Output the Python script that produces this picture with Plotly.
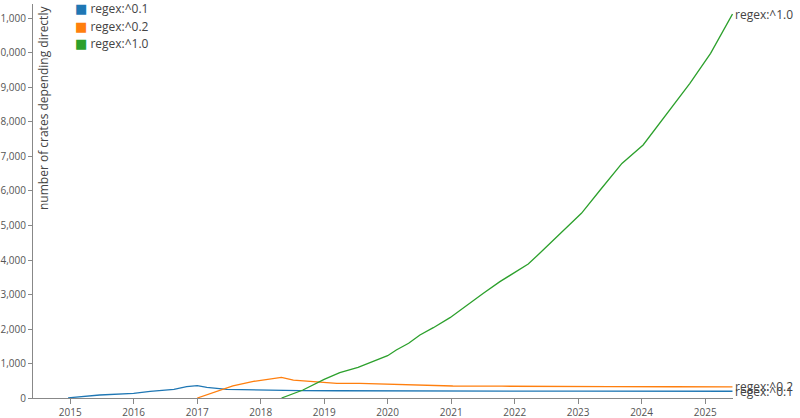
import plotly.graph_objects as go

# ---- data ----
series_names = ["regex:^0.1", "regex:^0.2", "regex:^1.0"]
colors = ["#1f77b4", "#ff7f0e", "#2ca02c"]

blue_dates = ["2014-12-20", "2015-06-20", "2016-01-01", "2016-04-05", "2016-08-20",
              "2016-11-01", "2017-01-01", "2017-02-25", "2017-06-20", "2017-12-28",
              "2018-08-15", "2019-03-15", "2020-03-15", "2021-06-01", "2023-01-01",
              "2025-06-07"]
blue_vals = [5, 87, 135, 193, 252, 328, 357, 310, 252, 232, 212, 210, 203, 200, 198, 196]

orange_dates = ["2017-01-01", "2017-04-20", "2017-07-25", "2017-11-20", "2018-04-30",
                "2018-07-08", "2018-12-28", "2019-03-15", "2019-07-25", "2020-01-01",
                "2020-07-05", "2021-01-10", "2021-10-20", "2022-07-22", "2023-07-01",
                "2024-07-01", "2025-06-07"]
orange_vals = [0, 183, 348, 481, 600, 520, 440, 425, 425, 396, 365, 348, 342, 330, 328,
               326, 325]

green_dates = ["2018-05-01", "2018-09-01", "2019-01-01", "2019-04-01", "2019-07-15",
               "2019-10-15", "2020-01-01", "2020-02-20", "2020-05-01", "2020-07-05",
               "2020-09-20", "2020-12-25", "2021-04-01", "2021-07-05", "2021-10-08",
               "2022-01-10", "2022-03-20", "2022-05-25", "2022-08-10", "2023-01-20",
               "2023-05-08", "2023-09-10", "2024-01-10", "2024-05-25", "2024-10-05",
               "2025-02-01", "2025-06-07"]
green_vals = [0, 232, 540, 733, 890, 1072, 1226, 1391, 1585, 1826, 2038, 2328, 2696,
              3034, 3372, 3662, 3884, 4194, 4560, 5353, 6029, 6800, 7333, 8250, 9120,
              9990, 11130]

y_tick_vals = list(range(0, 12000, 1000))
x_tick_vals = [f"{y}-01-01" for y in range(2015, 2026)]
x_tick_text = [str(y) for y in range(2015, 2026)]

all_dates = [blue_dates, orange_dates, green_dates]
all_vals = [blue_vals, orange_vals, green_vals]

FONT = "Open Sans"
fig = go.Figure()

for i, (name, c, xs, ys) in enumerate(zip(series_names, colors, all_dates, all_vals)):
    fig.add_trace(go.Scatter(x=xs, y=ys, mode="lines", name=name,
                             line=dict(color=c, width=1.3), showlegend=False,
                             hoverinfo="skip"))
    # end label
    fig.add_annotation(x=xs[-1], y=ys[-1], text=name, showarrow=False,
                       xanchor="left", yanchor="middle", xshift=1,
                       font=dict(family=FONT, size=12, color="#444"))
    # legend entry (colored square + name)
    fig.add_annotation(xref="paper", yref="paper", x=0.057, y=1.0,
                       yshift=-i * 17.5 + 6, xanchor="left", yanchor="top",
                       showarrow=False,
                       text=f"<span style='color:{c};font-family:DejaVu Sans;font-size:13px'>■</span> {name}",
                       font=dict(family=FONT, size=12, color="#444"))

fig.add_annotation(xref="paper", yref="paper", x=0.0, y=1.0, xshift=10,
                   text="number of crates depending directly", textangle=-90,
                   showarrow=False, xanchor="center", yanchor="top",
                   font=dict(family=FONT, size=12, color="#444"))

fig.update_layout(
    width=800, height=418,
    margin=dict(l=33, r=67, t=4, b=20),
    paper_bgcolor="white", plot_bgcolor="white",
    showlegend=False,
    hovermode=False,
    font=dict(family=FONT, size=10, color="#555"),
    xaxis=dict(range=["2014-06-01", "2025-06-10"], tickvals=x_tick_vals,
               ticktext=x_tick_text, showgrid=False, zeroline=False,
               showline=True, linecolor="#888", linewidth=1, ticks="outside",
               ticklen=5, tickcolor="#888", tickfont=dict(size=10, color="#555"),
               automargin=False),
    yaxis=dict(range=[0, 11420], tickvals=y_tick_vals, tickformat=",d",
               showgrid=False, zeroline=False, showline=True, linecolor="#888",
               linewidth=1, ticks="outside", ticklen=4, tickcolor="#888",
               tickfont=dict(size=10, color="#555"), automargin=False),
)

fig.write_html("out.html", config={"displayModeBar": False},
               post_script="document.body.style.margin='0px';document.body.style.overflow='hidden';")
